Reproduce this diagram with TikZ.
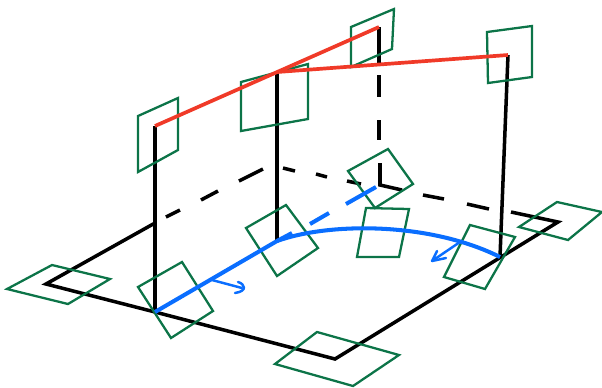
\documentclass[tikz,border=0pt]{standalone}
\usepackage{tikz}
\definecolor{framegreen}{RGB}{12,116,72}
\definecolor{pathblue}{RGB}{10,110,255}
\definecolor{pathred}{RGB}{240,58,40}
\tikzset{
  edgeline/.style={black,line width=2pt},
  framequad/.style={framegreen,line width=1.3pt,line join=miter},
  redline/.style={pathred,line width=2.1pt},
  blueline/.style={pathblue,line width=2.3pt},
  bluethin/.style={pathblue,line width=1.4pt,line cap=round,line join=round}
}
\begin{document}
\begin{tikzpicture}[x=0.02cm,y=-0.02cm]
\useasboundingbox (0,0) rectangle (602,387);
% corners
\coordinate (farleft) at (46,284);
\coordinate (footleft) at (155,312);
\coordinate (front) at (335,359);
\coordinate (footright) at (500,257);
\coordinate (farright) at (558,222);
\coordinate (footmid) at (277,241);
\coordinate (backleft) at (155,223);
\coordinate (topleft) at (155,126);
\coordinate (topmid) at (277,72);
\coordinate (topback) at (379,27);
\coordinate (topright) at (508,55);
\coordinate (backfoot) at (380,185);
% ground and posts
\draw[edgeline,line join=miter] (backleft) -- (farleft) -- (footleft) -- (front) -- (farright) -- (511,212);
\draw[edgeline] (footleft) -- (topleft);
\draw[edgeline] (footmid) -- (topmid);
\draw[edgeline] (footright) -- (topright);
\draw[edgeline] (topback) -- (379,65);
\draw[edgeline] (380,163) -- (backfoot) -- (402,190);
\foreach \xa/\ya/\xb/\yb in {166/217/180/210,201/200/218/191,239/181/263/169,283/168/295/171,
    316/174/327/177,347/181/361/184,423/195/444/199,467/204/489/209,379/75/379/97,379/120/379/140}
    \draw[edgeline] (\xa,\ya) -- (\xb,\yb);
% frames
\foreach \xa/\ya/\xb/\yb/\xc/\yc/\xd/\yd in {7/289/52/265/110/279/68/304,
    138/287/182/262/213/311/171/338,
    246/228/286/205/318/248/277/276,
    275/364/317/332/399/355/353/386,
    470/225/515/237/485/289/444/277,
    519/227/557/202/602/212/568/240,
    348/171/388/149/413/184/375/208,
    366/208/409/209/399/257/357/257,
    138/116/178/98/178/150/138/172,
    241/82/308/64/308/119/241/131,
    351/27/394/9/392/49/351/67,
    487/32/532/26/532/77/488/83}
    \draw[framequad] (\xa,\ya) -- (\xb,\yb) -- (\xc,\yc) -- (\xd,\yd) -- cycle;
% red edges
\draw[redline] (topleft) -- (topback);
\draw[redline] (topmid) -- (topright);
% blue paths
\draw[blueline] (footleft) -- (footmid) -- (292,233);
\draw[blueline] (footmid) .. controls (330,222) and (430,222) .. (footright);
\draw[blueline] (310,224) -- (329,213);
\draw[blueline] (346,204) -- (376,187);
\draw[bluethin] (212,280) -- (242,288);
\draw[bluethin] (238,282) .. controls (245,284) and (248,291) .. (235,293);
\draw[bluethin] (460,242) -- (432,261) -- (437,251);
\draw[bluethin] (432,261) -- (446,258);
\end{tikzpicture}
\end{document}
